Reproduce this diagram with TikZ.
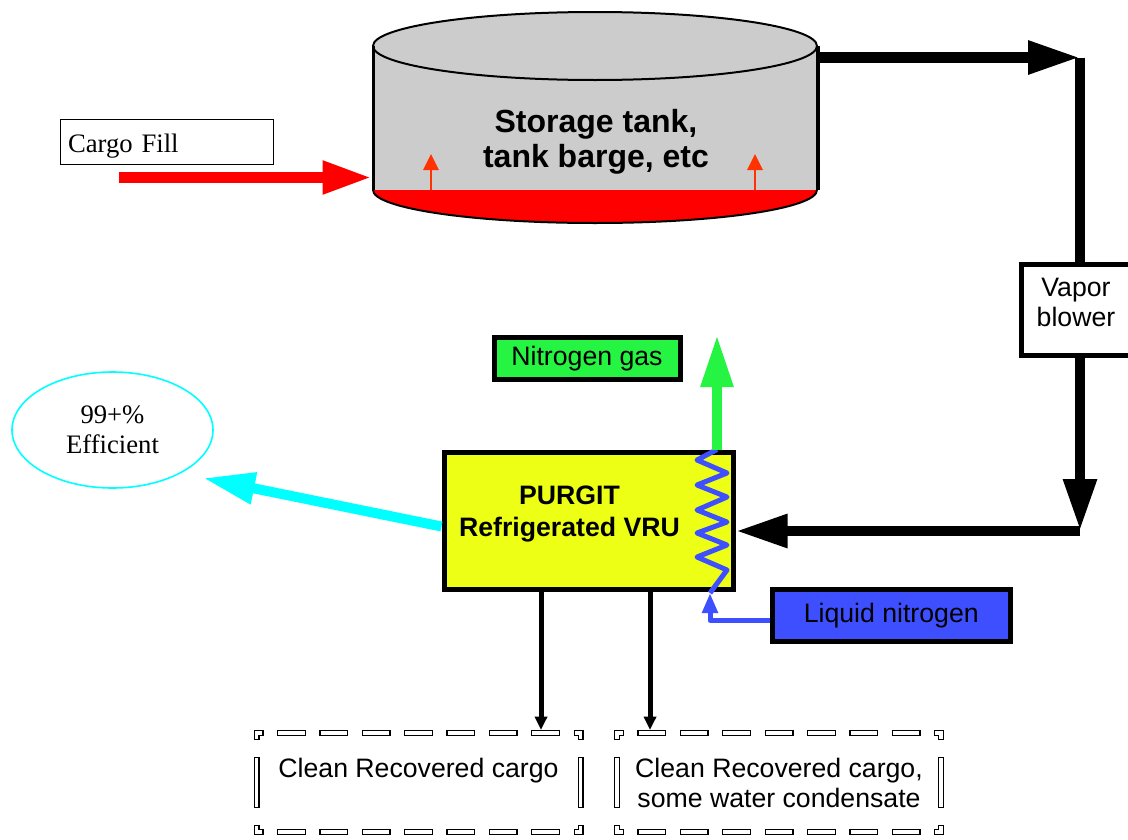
\documentclass[tikz,border=0pt]{standalone}
\usepackage{fontspec}
\setmainfont{Liberation Serif}
\setsansfont{Liberation Sans}
\usepackage{tikz}
\usetikzlibrary{arrows.meta}
\usetikzlibrary{calc}
\usetikzlibrary{shapes.geometric}

\definecolor{tankgrey}{HTML}{CCCCCC}
\definecolor{cargored}{HTML}{FF0000}
\definecolor{risered}{HTML}{FF3300}
\definecolor{vruyellow}{HTML}{ECFF14}
\definecolor{gasgreen}{HTML}{26F442}
\definecolor{ln2blue}{HTML}{3D4FFF}
\definecolor{effcyan}{HTML}{00FFFF}

\tikzset{
  boxed/.style={draw=black, line width=3.75pt, inner sep=0pt, align=center,
    font=\sffamily\fontsize{20}{22.5}\selectfont},
  boxtext/.style={align=center, font=\sffamily\fontsize{20}{22.5}\selectfont},
  fillbox/.style={draw=black, line width=1.1pt, inner xsep=5.625pt, inner ysep=0pt,
    text width=148.5pt, text height=18pt, text depth=3pt, align=left, minimum height=33.75pt,
    font=\rmfamily\fontsize{20}{22.5}\selectfont},
  tanklabel/.style={align=center, font=\sffamily\bfseries\fontsize{24}{26.25}\selectfont},
  vrulabel/.style={align=center, font=\sffamily\bfseries\fontsize{20}{24}\selectfont},
  effnode/.style={ellipse, draw=effcyan, line width=1.2pt, minimum width=150.75pt,
    minimum height=87pt, inner sep=0pt, align=center,
    font=\rmfamily\fontsize{20}{22.5}\selectfont},
  cargobox/.style={minimum width=243pt, minimum height=74.25pt, inner sep=0pt, outer sep=0pt,
    align=center, font=\sffamily\fontsize{20}{22.5}\selectfont},
  hollowdash/.style={draw=black, line width=4.5pt,
    dash pattern=on 21.75pt off 10.03125pt on 21.75pt off 10.03125pt on 21.75pt off 10.03125pt
      on 21.75pt off 10.03125pt on 21.75pt off 10.03125pt on 21.75pt off 10.03125pt
      on 21.75pt off 10.03125pt
      on 10.5pt off 12.75pt on 38.25pt off 12.75pt on 10.5pt off 10.03125pt
      on 21.75pt off 10.03125pt on 21.75pt off 10.03125pt on 21.75pt off 10.03125pt
      on 21.75pt off 10.03125pt on 21.75pt off 10.03125pt on 21.75pt off 10.03125pt
      on 21.75pt off 10.03125pt
      on 10.5pt off 12.75pt on 38.25pt off 12.75pt on 10.5pt off 10.03125pt,
    postaction={draw=white, line width=2.5pt,
      dash pattern=on 19.75pt off 12.03125pt on 19.75pt off 12.03125pt on 19.75pt off 12.03125pt
        on 19.75pt off 12.03125pt on 19.75pt off 12.03125pt on 19.75pt off 12.03125pt
        on 19.75pt off 12.03125pt
        on 8.5pt off 14.75pt on 36.25pt off 14.75pt on 8.5pt off 12.03125pt
        on 19.75pt off 12.03125pt on 19.75pt off 12.03125pt on 19.75pt off 12.03125pt
        on 19.75pt off 12.03125pt on 19.75pt off 12.03125pt on 19.75pt off 12.03125pt
        on 19.75pt off 12.03125pt
        on 8.5pt off 14.75pt on 36.25pt off 14.75pt on 8.5pt off 12.03125pt,
      dash phase=633.5pt}},
  fillpipe/.style={draw=cargored, line width=8.5pt, -{Triangle[length=37pt,width=23pt]}},
  looppipe/.style={draw=black, line width=8pt, -{Triangle[length=39pt,width=23.5pt]}},
  gaspipe/.style={draw=gasgreen, line width=7.25pt, -{Triangle[length=39pt,width=23pt]}},
  effpipe/.style={draw=effcyan, line width=7.5pt, -{Triangle[length=39pt,width=22.5pt]}},
  coolpipe/.style={draw=ln2blue, line width=3.75pt, line join=round},
  droppipe/.style={draw=black, line width=3.75pt, -{Triangle[length=10pt,width=9pt]}},
  risearrow/.style={draw=risered, line width=1.5pt, -{Triangle[length=12pt,width=11.5pt]}},
}

\begin{document}
\begin{tikzpicture}[x=0.75pt, y=-0.75pt]
  \useasboundingbox (0,0) rectangle (1128,839);

  % storage tank
  \fill[tankgrey] (373,46) rectangle (817,190);
  \fill[cargored] (373,190) arc[start angle=180, end angle=0, x radius=222, y radius=33] -- cycle;
  \draw[line width=1.5pt] (373,190) arc[start angle=180, end angle=0, x radius=222, y radius=33];
  \filldraw[fill=tankgrey, line width=1.5pt] (595,46) ellipse[x radius=222, y radius=34];
  \draw[line width=2.25pt] (373,46) -- (373,190);
  \draw[line width=3.4pt] (818,46) -- (818,190);
  \draw[risearrow] (431,190) -- (431,154);
  \draw[risearrow] (755,190) -- (755,154);
  \node[tanklabel] (tank) at (596,141.5) {Storage tank,\\tank barge, etc};

  % cargo fill
  \node[fillbox] (cargofill) at (167,142) {Cargo Fill};
  \coordinate (fillstart) at (119,177.5);
  \coordinate (tankin) at (372,177.5);
  \draw[fillpipe] (fillstart) -- (tankin);

  % vapour loop
  \node[boxed, fill=white, minimum width=81.75pt, minimum height=68.25pt] (blower) at (1076,310) {};
  \node[boxtext] (blowertext) at (1076,302) {Vapor\\blower};
  \coordinate (tankout) at (820,57.5);
  \coordinate (c1) at (1080,57.5);
  \coordinate (c2) at (1080,531);
  \node[boxed, fill=vruyellow, minimum width=216.75pt, minimum height=102.75pt] (vru) at (588.5,520.5) {};
  \node[vrulabel] (vrutext) at (569.5,514) {PURGIT\\Refrigerated VRU};
  \draw[looppipe] (tankout) -- (c1);
  \draw[looppipe, arrows=-] (c1) -- (blower.north -| c1);
  \draw[looppipe] (blower.south -| c1) -- (c2);
  \draw[looppipe] (c2) -- (vru.east |- c2);

  % nitrogen
  \node[boxed, fill=gasgreen, minimum width=139.5pt, minimum height=31.5pt] (n2gas) at (587,358.5) {Nitrogen gas};
  \node[boxed, fill=ln2blue, minimum width=178.125pt, minimum height=39.375pt] (ln2) at (891.25,615.25) {Liquid nitrogen};
  \coordinate (coiltop) at (717,449.5);
  \coordinate (coilbot) at (710,593);
  \coordinate (gasout) at (717,335);
  \draw[coolpipe] (coilbot) -- (727,570) -- (697,557) -- (727,545) -- (697,533) -- (727,522)
    -- (697,510) -- (727,497) -- (697,485) -- (727,473) -- (697,460) -- (coiltop);
  \draw[coolpipe, -{Triangle[length=15pt,width=11.25pt]}] ([yshift=-3.75pt]ln2.west) -| (coilbot);
  \draw[gaspipe] (coiltop) -- (gasout);

  % efficiency
  \node[effnode] (eff) at (112.5,430) {99+\%\\Efficient};
  \coordinate (effout) at (203,478);
  \draw[effpipe] ([yshift=-4.5pt]vru.west) -- (effout);

  % recovered cargo
  \node[cargobox] (clean) at (418.5,782.5) {Clean Recovered cargo\\\mbox{}};
  \node[cargobox] (cleanwet) at (779,782.5) {Clean Recovered cargo,\\some water condensate};
  \foreach \b in {clean,cleanwet}
    \draw[hollowdash] ([xshift=15.28125pt]\b.north west) -- (\b.north east) -- (\b.south east)
      -- (\b.south west) -- (\b.north west) -- ([xshift=15.28125pt]\b.north west);
  \coordinate (drop1) at (541,0);
  \coordinate (drop2) at (650,0);
  \draw[droppipe, shorten >=2.25pt] (vru.south -| drop1) -- (clean.north -| drop1);
  \draw[droppipe, shorten >=2.25pt] (vru.south -| drop2) -- (cleanwet.north -| drop2);
\end{tikzpicture}
\end{document}
